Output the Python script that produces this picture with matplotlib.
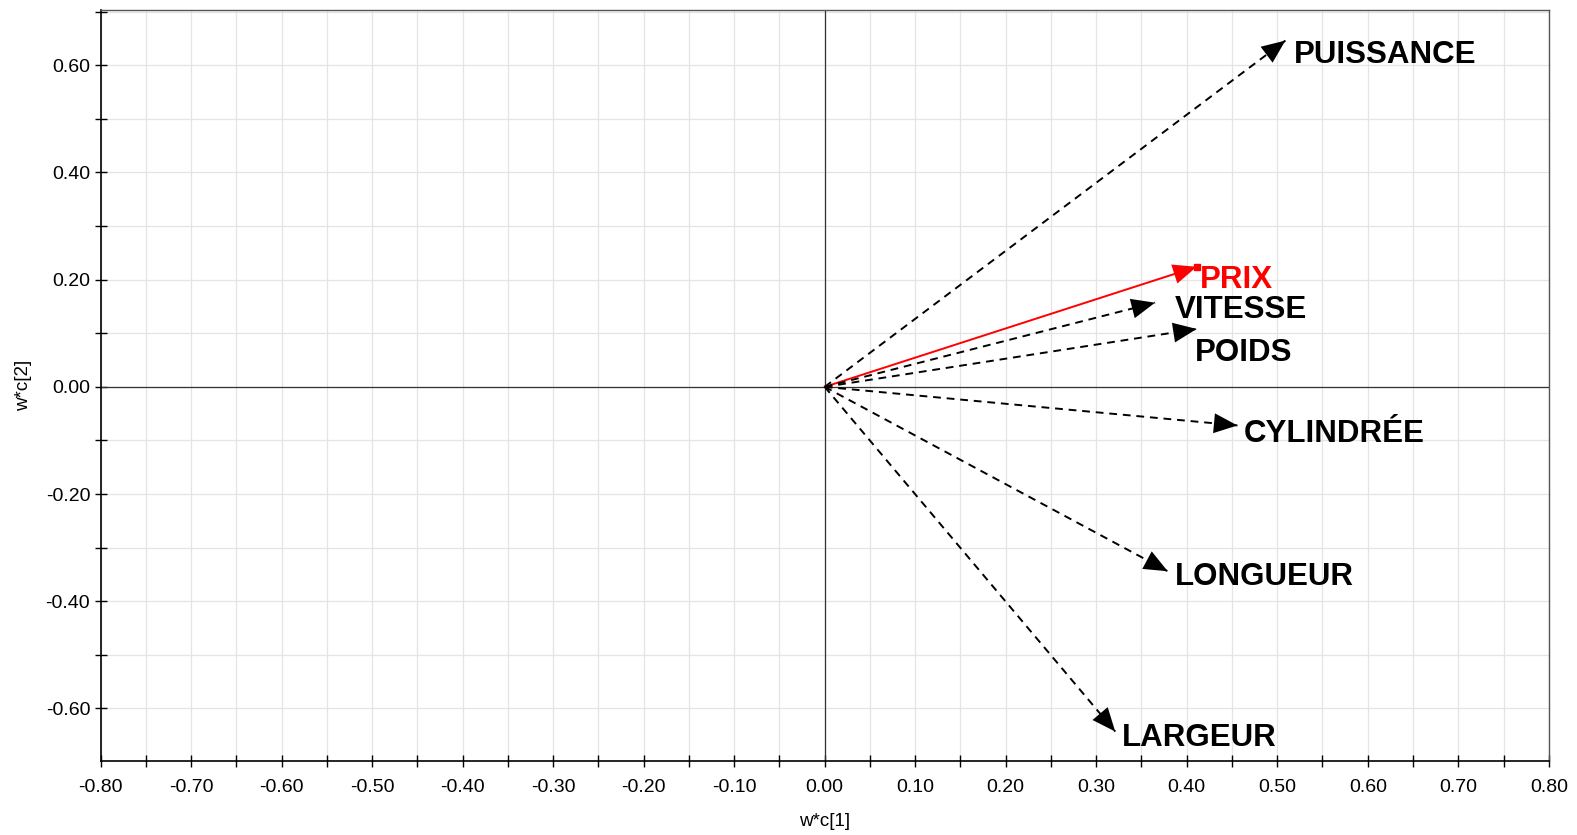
import matplotlib
matplotlib.use("Agg")
import matplotlib.pyplot as plt
from matplotlib.ticker import MultipleLocator, FormatStrFormatter

# Data: variable loadings (w*c[1], w*c[2])
variables = ["PUISSANCE", "PRIX", "VITESSE", "POIDS", "CYLINDRÉE", "LONGUEUR", "LARGEUR"]
wc1 = [0.509, 0.411, 0.365, 0.411, 0.456, 0.379, 0.321]
wc2 = [0.646, 0.224, 0.157, 0.108, -0.072, -0.344, -0.643]
colors = ["black", "red", "black", "black", "black", "black", "black"]
# label offsets in pixels from the arrow tip (dx right, dy down)
label_offsets = [(8, 14), (3, 13), (20, 7), (-2, 24), (6, 9), (7, 6), (7, 6)]

plt.rcParams['font.family'] = ['Liberation Sans', 'DejaVu Sans']

fig = plt.figure(figsize=(15.77, 8.35), dpi=100)
ax = fig.add_axes([0.0638, 0.0886, 0.9183, 0.8994])

ax.set_xlim(-0.8, 0.8)
ax.set_ylim(-0.698, 0.703)

ax.xaxis.set_major_locator(MultipleLocator(0.1))
ax.xaxis.set_minor_locator(MultipleLocator(0.05))
ax.yaxis.set_major_locator(MultipleLocator(0.2))
ax.yaxis.set_minor_locator(MultipleLocator(0.1))
ax.xaxis.set_major_formatter(FormatStrFormatter('%.2f'))
ax.yaxis.set_major_formatter(FormatStrFormatter('%.2f'))

ax.grid(True, which='both', color='#e4e4e4', linewidth=0.9)
ax.set_axisbelow(True)

ax.tick_params(axis='both', which='both', direction='inout', length=8, width=1, labelsize=14)
ax.tick_params(axis='x', which='major', pad=9)

for s in ['left', 'bottom']:
    ax.spines[s].set_color('black')
    ax.spines[s].set_linewidth(1.2)
for s in ['top', 'right']:
    ax.spines[s].set_color('#555555')
    ax.spines[s].set_linewidth(1.0)

ax.axhline(0, color='#333333', linewidth=0.9, zorder=1)
ax.axvline(0, color='#333333', linewidth=0.9, zorder=1)

ax.set_xlabel('w*c[1]', fontsize=13.5, labelpad=12)
ax.set_ylabel('w*c[2]', fontsize=13.5, labelpad=10)

for name, x, y, c, (dx, dy) in zip(variables, wc1, wc2, colors, label_offsets):
    ls = '-' if c == 'red' else (0, (4, 3))
    ax.plot([0, x], [0, y], color=c, linewidth=1.4, linestyle=ls, zorder=3)
    ax.annotate('', xy=(x, y), xytext=(0, 0),
                arrowprops=dict(arrowstyle='-|>,head_length=1.3,head_width=0.55',
                                mutation_scale=13,
                                color=c, lw=0.01, shrinkA=0, shrinkB=0),
                zorder=4)
    if c == 'red':
        ax.plot([x], [y], marker='s', color=c, markersize=5, zorder=4)
    ax.annotate(name, xy=(x, y), xytext=(dx, -dy), textcoords='offset pixels',
                ha='left', va='center', fontsize=22.5, fontweight='bold', color=c, zorder=5)

fig.savefig('out.png', dpi=100)
